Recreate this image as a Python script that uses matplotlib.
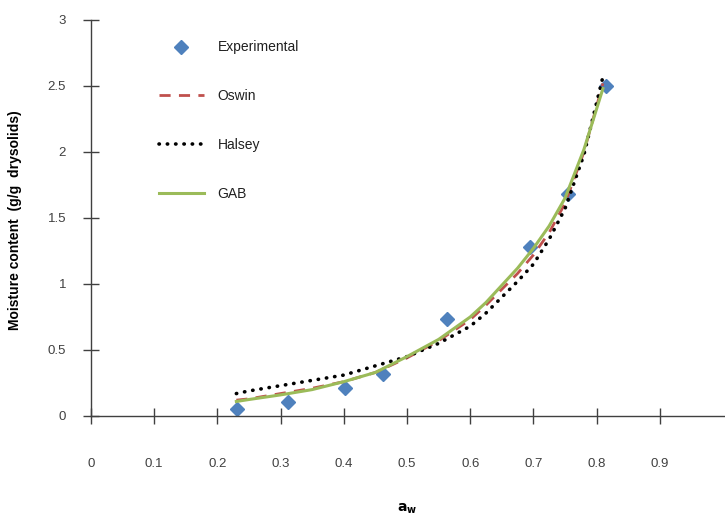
import matplotlib
matplotlib.use("Agg")
import matplotlib.pyplot as plt

plt.rcParams['font.family'] = ['Liberation Sans', 'DejaVu Sans']

# Data
exp_aw = [0.231, 0.312, 0.402, 0.462, 0.563, 0.695, 0.755, 0.815]
exp_m = [0.053, 0.106, 0.21, 0.318, 0.735, 1.28, 1.68, 2.50]

fit_aw = [0.23, 0.25, 0.30, 0.35, 0.40, 0.45, 0.50, 0.55, 0.60, 0.625, 0.65,
          0.675, 0.70, 0.725, 0.75, 0.78, 0.81]
oswin_m = [0.12, 0.13, 0.17, 0.21, 0.26, 0.33, 0.44, 0.57, 0.73, 0.84, 0.96,
           1.08, 1.22, 1.39, 1.61, 2.00, 2.52]
halsey_m = [0.17, 0.19, 0.23, 0.27, 0.31, 0.38, 0.45, 0.55, 0.68, 0.78, 0.90,
            1.02, 1.15, 1.34, 1.57, 1.98, 2.57]
gab_m = [0.11, 0.125, 0.16, 0.20, 0.26, 0.33, 0.45, 0.58, 0.75, 0.86, 0.99,
         1.12, 1.27, 1.44, 1.65, 2.02, 2.48]

x_ticks = [0, 0.1, 0.2, 0.3, 0.4, 0.5, 0.6, 0.7, 0.8, 0.9]
x_labels = ['0', '0.1', '0.2', '0.3', '0.4', '0.5', '0.6', '0.7', '0.8', '0.9']
y_ticks = [0, 0.5, 1, 1.5, 2, 2.5, 3]
y_labels = ['0', '0.5', '1', '1.5', '2', '2.5', '3']

fig = plt.figure(figsize=(7.25, 5.16), dpi=100)
ax = fig.add_axes([91/725, 100/516, 634/725, 396/516])

ax.plot(exp_aw, exp_m, linestyle='none', marker='D', markersize=7,
        color='#4F81BD', label='Experimental', zorder=2)
ax.plot(fit_aw, oswin_m, linestyle=(0, (4, 3)), color='#C0504D', lw=2,
        label='Oswin', zorder=3)
ax.plot(fit_aw, halsey_m, linestyle=(0, (0.1, 2.2)), dash_capstyle='round',
        color='black', lw=2.6, label='Halsey', zorder=4)
ax.plot(fit_aw, gab_m, linestyle='-', color='#9BBB59', lw=2.2,
        label='GAB', zorder=5)

ax.set_xlim(0, 634/632)
ax.set_ylim(0, 3)
for s in ['top', 'right']:
    ax.spines[s].set_visible(False)
for s in ['left', 'bottom']:
    ax.spines[s].set_color('#404040')
    ax.spines[s].set_linewidth(1.0)

ax.set_xticks(x_ticks)
ax.set_xticklabels(x_labels)
ax.set_yticks(y_ticks)
ax.set_yticklabels(y_labels)
ax.tick_params(axis='x', direction='inout', length=12, width=1, color='#404040',
               pad=24, labelsize=9.5, labelcolor='#404040')
ax.tick_params(axis='y', direction='inout', length=12, width=1, color='#404040',
               pad=12, labelsize=9.5, labelcolor='#404040')

fig.text(15/725, 1 - 220/516, 'Moisture content  (g/g  drysolids)', rotation=90,
         ha='center', va='center', fontsize=10, fontweight='bold')
fig.text(407/725, 1 - 509/516, r'$\mathbf{a}_{\mathbf{w}}$', ha='center', va='center',
         fontsize=10)

leg = ax.legend(loc='upper left', frameon=False, fontsize=10, handlelength=3.3,
                labelspacing=2.5, handletextpad=0.95)
leg.set_bbox_to_anchor((146/725, 1 - 28/516), transform=fig.transFigure)
for t in leg.get_texts():
    t.set_color('#202020')

fig.savefig('out.png', dpi=100)
